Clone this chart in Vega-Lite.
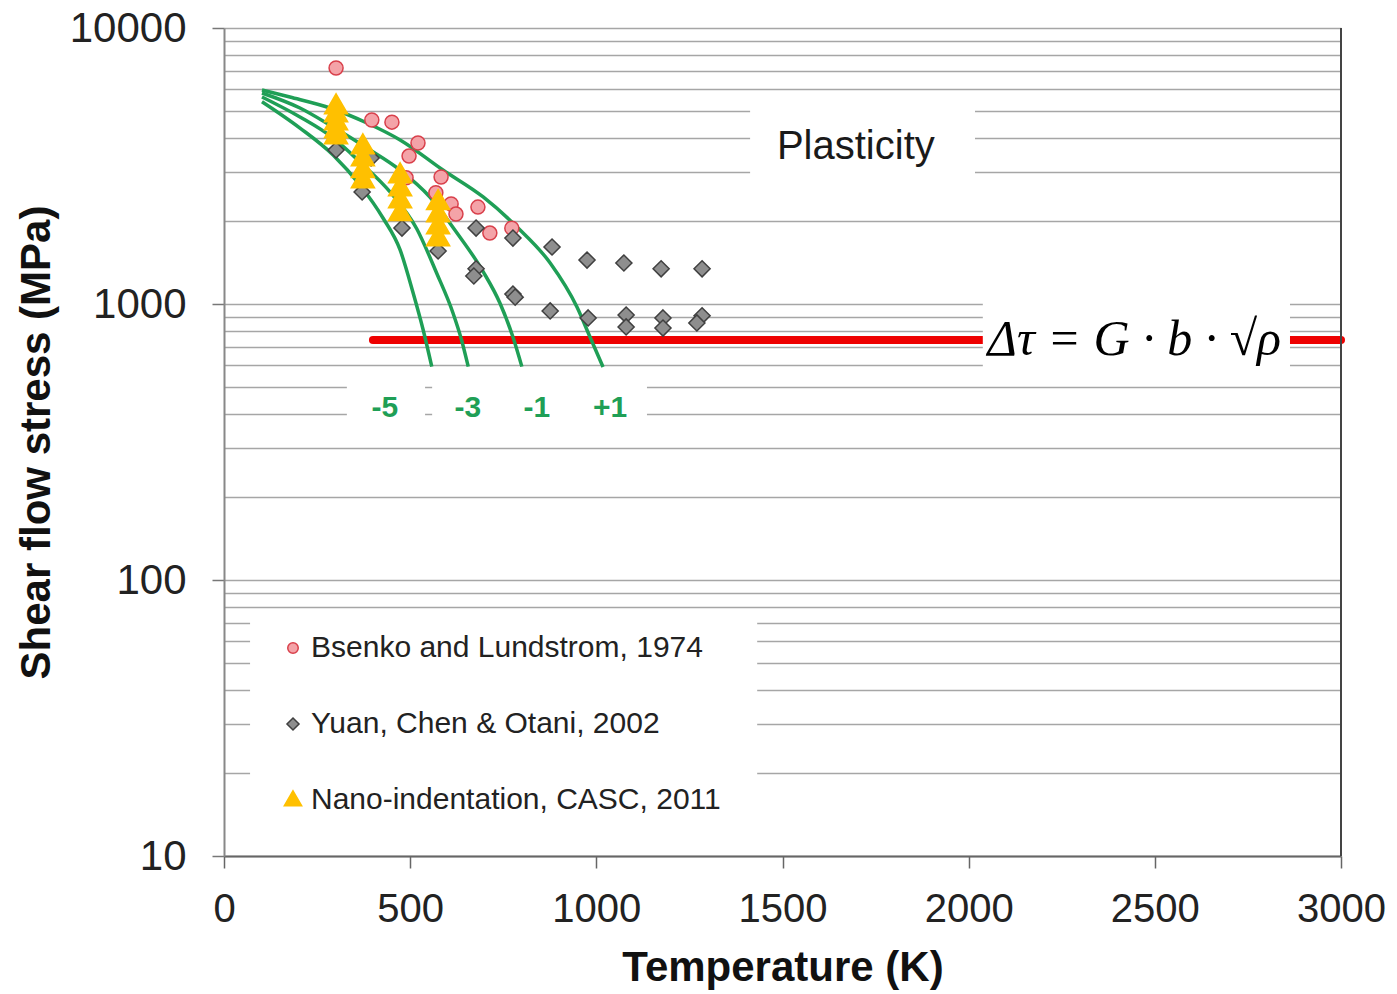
{
  "$schema": "https://vega.github.io/schema/vega-lite/v6.json",
  "width": 1117,
  "height": 828,
  "autosize": {"type": "none"},
  "padding": {"left": 224, "top": 28, "right": 56, "bottom": 138},
  "background": "white",
  "config": {
    "view": {"stroke": null},
    "font": "Liberation Sans",
    "legend": {
      "orient": "none",
      "legendX": 54,
      "legendY": 605,
      "labelFontSize": 30,
      "labelFont": "Liberation Sans",
      "labelColor": "#222222",
      "rowPadding": 46,
      "labelLimit": 800,
      "labelOffset": 3,
      "symbolSize": 110,
      "symbolStrokeWidth": 1.5
    }
  },
  "datasets": {
    "points": [
      {"series": "Bsenko and Lundstrom, 1974", "T": 301, "v": 7165},
      {"series": "Bsenko and Lundstrom, 1974", "T": 397, "v": 4642},
      {"series": "Bsenko and Lundstrom, 1974", "T": 451, "v": 4560},
      {"series": "Bsenko and Lundstrom, 1974", "T": 521, "v": 3831},
      {"series": "Bsenko and Lundstrom, 1974", "T": 497, "v": 3436},
      {"series": "Bsenko and Lundstrom, 1974", "T": 489, "v": 2865},
      {"series": "Bsenko and Lundstrom, 1974", "T": 583, "v": 2884},
      {"series": "Bsenko and Lundstrom, 1974", "T": 569, "v": 2530},
      {"series": "Bsenko and Lundstrom, 1974", "T": 610, "v": 2303},
      {"series": "Bsenko and Lundstrom, 1974", "T": 623, "v": 2118},
      {"series": "Bsenko and Lundstrom, 1974", "T": 682, "v": 2244},
      {"series": "Bsenko and Lundstrom, 1974", "T": 714, "v": 1807},
      {"series": "Bsenko and Lundstrom, 1974", "T": 773, "v": 1883},
      {"series": "Yuan, Chen & Otani, 2002", "T": 301, "v": 3614},
      {"series": "Yuan, Chen & Otani, 2002", "T": 395, "v": 3381},
      {"series": "Yuan, Chen & Otani, 2002", "T": 371, "v": 2547},
      {"series": "Yuan, Chen & Otani, 2002", "T": 478, "v": 1884},
      {"series": "Yuan, Chen & Otani, 2002", "T": 575, "v": 1556},
      {"series": "Yuan, Chen & Otani, 2002", "T": 677, "v": 1884},
      {"series": "Yuan, Chen & Otani, 2002", "T": 776, "v": 1733},
      {"series": "Yuan, Chen & Otani, 2002", "T": 881, "v": 1609},
      {"series": "Yuan, Chen & Otani, 2002", "T": 975, "v": 1443},
      {"series": "Yuan, Chen & Otani, 2002", "T": 1074, "v": 1408},
      {"series": "Yuan, Chen & Otani, 2002", "T": 1174, "v": 1341},
      {"series": "Yuan, Chen & Otani, 2002", "T": 1284, "v": 1341},
      {"series": "Yuan, Chen & Otani, 2002", "T": 677, "v": 1341},
      {"series": "Yuan, Chen & Otani, 2002", "T": 671, "v": 1263},
      {"series": "Yuan, Chen & Otani, 2002", "T": 776, "v": 1086},
      {"series": "Yuan, Chen & Otani, 2002", "T": 782, "v": 1059},
      {"series": "Yuan, Chen & Otani, 2002", "T": 876, "v": 944},
      {"series": "Yuan, Chen & Otani, 2002", "T": 978, "v": 890},
      {"series": "Yuan, Chen & Otani, 2002", "T": 1080, "v": 912},
      {"series": "Yuan, Chen & Otani, 2002", "T": 1080, "v": 826},
      {"series": "Yuan, Chen & Otani, 2002", "T": 1179, "v": 890},
      {"series": "Yuan, Chen & Otani, 2002", "T": 1179, "v": 818},
      {"series": "Yuan, Chen & Otani, 2002", "T": 1284, "v": 906},
      {"series": "Yuan, Chen & Otani, 2002", "T": 1270, "v": 854},
      {"series": "Nano-indentation, CASC, 2011", "T": 301, "v": 5212},
      {"series": "Nano-indentation, CASC, 2011", "T": 301, "v": 4877},
      {"series": "Nano-indentation, CASC, 2011", "T": 301, "v": 4563},
      {"series": "Nano-indentation, CASC, 2011", "T": 301, "v": 4269},
      {"series": "Nano-indentation, CASC, 2011", "T": 301, "v": 4063},
      {"series": "Nano-indentation, CASC, 2011", "T": 373, "v": 3733},
      {"series": "Nano-indentation, CASC, 2011", "T": 373, "v": 3381},
      {"series": "Nano-indentation, CASC, 2011", "T": 373, "v": 3062},
      {"series": "Nano-indentation, CASC, 2011", "T": 373, "v": 2814},
      {"series": "Nano-indentation, CASC, 2011", "T": 473, "v": 2931},
      {"series": "Nano-indentation, CASC, 2011", "T": 473, "v": 2632},
      {"series": "Nano-indentation, CASC, 2011", "T": 473, "v": 2381},
      {"series": "Nano-indentation, CASC, 2011", "T": 473, "v": 2138},
      {"series": "Nano-indentation, CASC, 2011", "T": 575, "v": 2344},
      {"series": "Nano-indentation, CASC, 2011", "T": 575, "v": 2120},
      {"series": "Nano-indentation, CASC, 2011", "T": 575, "v": 1918},
      {"series": "Nano-indentation, CASC, 2011", "T": 575, "v": 1735}
    ],
    "curves": [
      {"curve": "+1", "T": 102, "v": 5964}, {"curve": "+1", "T": 177, "v": 5623}, {"curve": "+1", "T": 285, "v": 5130},
      {"curve": "+1", "T": 384, "v": 4527}, {"curve": "+1", "T": 473, "v": 3929}, {"curve": "+1", "T": 588, "v": 3058},
      {"curve": "+1", "T": 696, "v": 2442}, {"curve": "+1", "T": 787, "v": 1901}, {"curve": "+1", "T": 876, "v": 1408},
      {"curve": "+1", "T": 948, "v": 975}, {"curve": "+1", "T": 983, "v": 759}, {"curve": "+1", "T": 1018, "v": 591},
      {"curve": "-1", "T": 102, "v": 5815}, {"curve": "-1", "T": 204, "v": 5130}, {"curve": "-1", "T": 293, "v": 4377},
      {"curve": "-1", "T": 384, "v": 3675}, {"curve": "-1", "T": 473, "v": 3058}, {"curve": "-1", "T": 553, "v": 2442},
      {"curve": "-1", "T": 620, "v": 1854}, {"curve": "-1", "T": 696, "v": 1310}, {"curve": "-1", "T": 741, "v": 1008},
      {"curve": "-1", "T": 776, "v": 759}, {"curve": "-1", "T": 800, "v": 593},
      {"curve": "-3", "T": 102, "v": 5623}, {"curve": "-3", "T": 204, "v": 4759}, {"curve": "-3", "T": 293, "v": 3995},
      {"curve": "-3", "T": 365, "v": 3269}, {"curve": "-3", "T": 446, "v": 2546}, {"curve": "-3", "T": 518, "v": 1870},
      {"curve": "-3", "T": 571, "v": 1295}, {"curve": "-3", "T": 615, "v": 928}, {"curve": "-3", "T": 638, "v": 741},
      {"curve": "-3", "T": 656, "v": 593},
      {"curve": "-5", "T": 102, "v": 5408}, {"curve": "-5", "T": 204, "v": 4341}, {"curve": "-5", "T": 293, "v": 3467},
      {"curve": "-5", "T": 365, "v": 2699}, {"curve": "-5", "T": 427, "v": 2049}, {"curve": "-5", "T": 473, "v": 1570},
      {"curve": "-5", "T": 508, "v": 1096}, {"curve": "-5", "T": 535, "v": 805}, {"curve": "-5", "T": 558, "v": 593}
    ],
    "redline": [
      {"T": 400, "v": 740},
      {"T": 3000, "v": 740}
    ],
    "boxes": [
      {"T": 1413, "T2": 2017, "v": 2500, "v2": 5700},
      {"T": 2038, "T2": 2863, "v": 567, "v2": 1034},
      {"T": 330, "T2": 540, "v": 344, "v2": 540},
      {"T": 559, "T2": 1136, "v": 344, "v2": 540},
      {"T": 70, "T2": 1432, "v": 12.4, "v2": 74.7}
    ],
    "curvelabels": [
      {"label": "-5", "T": 432, "v": 420},
      {"label": "-3", "T": 655, "v": 420},
      {"label": "-1", "T": 840, "v": 420},
      {"label": "+1", "T": 1037, "v": 420}
    ],
    "plasticity": [
      {"label": "Plasticity", "T": 1697, "v": 3707}
    ],
    "formula": [
      {"label": "Δτ = G · b · √ρ", "T": 2445, "v": 741}
    ],
    "border": [
      {"T": 3000, "v": 10, "v2": 10000}
    ]
  },
  "encoding": {
    "x": {
      "field": "T",
      "type": "quantitative",
      "title": "Temperature (K)",
      "scale": {"domain": [0, 3000], "nice": false, "zero": false},
      "axis": {
        "values": [0, 500, 1000, 1500, 2000, 2500, 3000],
        "grid": false,
        "format": "d",
        "labelFontSize": 40,
        "labelFont": "Liberation Sans",
        "labelColor": "#222222",
        "labelFlush": false,
        "labelPadding": 21,
        "tickSize": 12,
        "tickWidth": 1.5,
        "tickColor": "#666666",
        "domainColor": "#666666",
        "domainWidth": 2,
        "titleFontSize": 42,
        "titleFont": "Liberation Sans",
        "titleFontWeight": "bold",
        "titleColor": "#111111",
        "titlePadding": 18
      }
    },
    "y": {
      "field": "v",
      "type": "quantitative",
      "title": "Shear flow stress (MPa)",
      "scale": {"type": "log", "domain": [10, 10000], "nice": false},
      "axis": {
        "values": [10, 20, 30, 40, 50, 60, 70, 80, 90, 100, 200, 300, 400, 500, 600, 700, 800, 900, 1000, 2000, 3000, 4000, 5000, 6000, 7000, 8000, 9000, 10000],
        "format": "d",
        "labelExpr": "indexof([10,100,1000,10000], datum.value) >= 0 ? datum.label : ''",
        "labelOverlap": false,
        "labelFlush": false,
        "labelFontSize": 42,
        "labelFont": "Liberation Sans",
        "labelColor": "#222222",
        "labelPadding": 26,
        "grid": true,
        "gridColor": "#a6a6a6",
        "gridWidth": 1.5,
        "tickSize": 12,
        "tickWidth": 1.5,
        "tickColor": "#777777",
        "tickOpacity": {"condition": {"test": "indexof([10,100,1000,10000], datum.value) >= 0", "value": 1}, "value": 0},
        "domainColor": "#888888",
        "domainWidth": 2,
        "titleFontSize": 42,
        "titleFont": "Liberation Sans",
        "titleFontWeight": "bold",
        "titleColor": "#111111",
        "titlePadding": 11
      }
    }
  },
  "layer": [
    {
      "data": {"name": "redline"},
      "mark": {"type": "line", "color": "#ee0000", "strokeWidth": 8, "strokeCap": "round"}
    },
    {
      "data": {"name": "boxes"},
      "mark": {"type": "rect", "fill": "white", "stroke": null},
      "encoding": {
        "x2": {"field": "T2"},
        "y2": {"field": "v2"}
      }
    },
    {
      "data": {"name": "curves"},
      "mark": {"type": "line", "color": "#1f9f56", "strokeWidth": 3.5, "interpolate": "monotone"},
      "encoding": {"detail": {"field": "curve", "type": "nominal"}}
    },
    {
      "data": {"name": "points"},
      "mark": {"type": "point", "filled": true, "opacity": 1, "strokeWidth": 1.5, "size": 196},
      "encoding": {
        "shape": {
          "field": "series", "type": "nominal",
          "scale": {"domain": ["Bsenko and Lundstrom, 1974", "Yuan, Chen & Otani, 2002", "Nano-indentation, CASC, 2011"], "range": ["circle", "M0,-1.15L1.15,0L0,1.15L-1.15,0Z", "M0,-1.75L1.65,1.1L-1.65,1.1Z"]},
          "legend": {"title": null}
        },
        "fill": {
          "field": "series", "type": "nominal",
          "scale": {"domain": ["Bsenko and Lundstrom, 1974", "Yuan, Chen & Otani, 2002", "Nano-indentation, CASC, 2011"], "range": ["#f4a3a8", "#8e8e8e", "#ffc000"]},
          "legend": {"title": null}
        },
        "stroke": {
          "field": "series", "type": "nominal",
          "scale": {"domain": ["Bsenko and Lundstrom, 1974", "Yuan, Chen & Otani, 2002", "Nano-indentation, CASC, 2011"], "range": ["#d9404b", "#404040", "#ffc000"]},
          "legend": {"title": null}
        }
      }
    },
    {
      "data": {"name": "curvelabels"},
      "mark": {"type": "text", "font": "Liberation Sans", "fontWeight": "bold", "fontSize": 30, "color": "#1f9f56", "align": "center", "baseline": "middle"},
      "encoding": {"text": {"field": "label"}}
    },
    {
      "data": {"name": "plasticity"},
      "mark": {"type": "text", "font": "Liberation Sans", "fontSize": 40, "color": "#1a1a1a", "align": "center", "baseline": "middle"},
      "encoding": {"text": {"field": "label"}}
    },
    {
      "data": {"name": "formula"},
      "mark": {"type": "text", "font": "Liberation Serif", "fontStyle": "italic", "fontSize": 50, "color": "#000000", "align": "center", "baseline": "middle"},
      "encoding": {"text": {"field": "label"}}
    },
    {
      "data": {"name": "border"},
      "mark": {"type": "rule", "color": "#444444", "strokeWidth": 2},
      "encoding": {"y2": {"field": "v2"}}
    }
  ]
}
